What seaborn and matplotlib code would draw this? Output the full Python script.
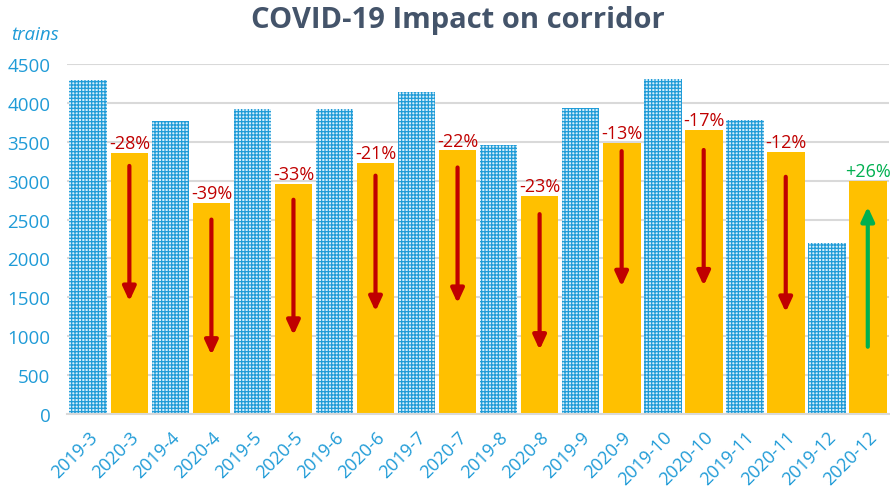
import numpy as np
import pandas as pd
import matplotlib.pyplot as plt
import seaborn as sns

# monthly train counts, 2019 vs 2020
periods = ['2019-3', '2020-3', '2019-4', '2020-4', '2019-5', '2020-5',
           '2019-6', '2020-6', '2019-7', '2020-7', '2019-8', '2020-8',
           '2019-9', '2020-9', '2019-10', '2020-10', '2019-11', '2020-11',
           '2019-12', '2020-12']
years = ['2019', '2020'] * 10
trains = [4300, 3360, 3770, 2715, 3925, 2960, 3920, 3225, 4145, 3390,
          3460, 2805, 3940, 3485, 4305, 3650, 3785, 3370, 2200, 3000]

# change labels and arrows on the 2020 bars
pct_labels = ['-28%', '-39%', '-33%', '-21%', '-22%', '-23%', '-13%', '-17%', '-12%', '+26%']
arrow_start = [3190, 2500, 2755, 3065, 3170, 2570, 3380, 3395, 3050, 865]
arrow_end = [1450, 760, 1015, 1320, 1425, 825, 1640, 1650, 1310, 2665]

BLUE = '#1f9bd7'
GOLD = '#ffc000'
RED = '#c00000'
GREEN = '#00b050'

df = pd.DataFrame({'period': periods, 'year': years, 'trains': trains})

sns.set_style('white')
plt.rcParams['font.family'] = ['Open Sans', 'DejaVu Sans']
plt.rcParams['hatch.color'] = BLUE
plt.rcParams['hatch.linewidth'] = 0.9

fig = plt.figure(figsize=(8.9, 4.89), dpi=100)
ax = fig.add_axes([0.0753, 0.1513, 0.9237, 0.7157])

sns.barplot(data=df, x='period', y='trains', hue='year', order=periods,
            palette={'2019': '#d8effa', '2020': GOLD}, dodge=False,
            saturation=1, width=0.92, legend=False, ax=ax, zorder=2)

# hatch the 2019 bars (find each bar's category from its position)
for p in ax.patches:
    i = int(round(p.get_x() + p.get_width() / 2))
    if years[i] == '2019':
        p.set_hatch('+++++')
        p.set_edgecolor(BLUE)
        p.set_linewidth(0)
        if hasattr(p, 'set_hatchcolor'):
            p.set_hatchcolor(BLUE)
    else:
        p.set_edgecolor('none')

# percent labels + arrows on 2020 bars
idx_2020 = [i for i, y in enumerate(years) if y == '2020']
for k, i in enumerate(idx_2020):
    col = GREEN if pct_labels[k].startswith('+') else RED
    ax.text(i, trains[i] + 10, pct_labels[k], ha='center', va='bottom',
            color=col, fontsize=13, zorder=4)
    ax.annotate('', xy=(i, arrow_end[k]), xytext=(i, arrow_start[k]),
                arrowprops=dict(arrowstyle='-|>,head_width=0.3,head_length=0.65',
                                lw=3, color=col, shrinkA=0, shrinkB=0,
                                mutation_scale=13),
                zorder=5)

ax.set_ylim(0, 4500)
ax.set_xlim(-0.52, 19.52)
ax.set_yticks(np.arange(0, 4501, 500))
ax.yaxis.grid(True, color='#d9d9d9', lw=1.5, zorder=0)
ax.set_axisbelow(True)
ax.set_xlabel('')
ax.set_ylabel('')
for s in ['top', 'right', 'left']:
    ax.spines[s].set_visible(False)
ax.spines['bottom'].set_color('#d9d9d9')
ax.spines['bottom'].set_linewidth(1.5)
ax.tick_params(length=0, colors=BLUE, labelsize=13.5)
ax.tick_params(axis='y', pad=12)
ax.tick_params(axis='x', labelsize=13, pad=10)
plt.setp(ax.get_xticklabels(), rotation=45, ha='right', rotation_mode='anchor')

fig.text(0.515, 0.958, 'COVID-19 Impact on corridor', ha='center', va='center',
         fontsize=21, fontweight='bold', color='#44546a')
fig.text(0.012, 0.928, 'trains', ha='left', va='center', fontsize=13.5,
         style='italic', color=BLUE)

fig.savefig('out.png', dpi=100)
